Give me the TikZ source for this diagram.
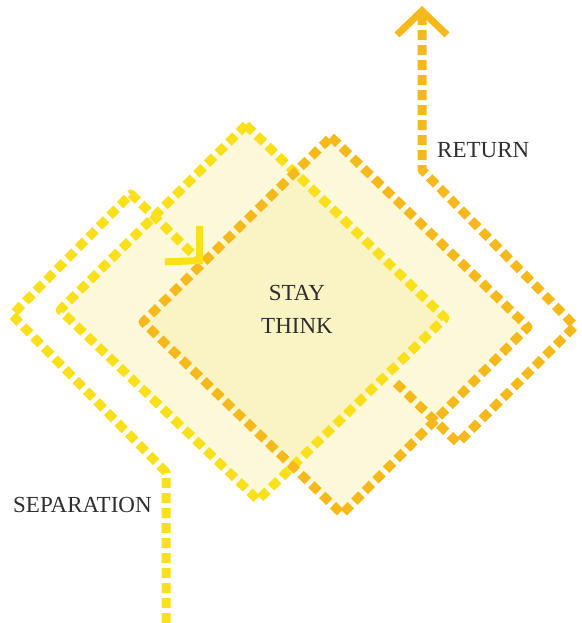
\documentclass[tikz,border=0pt]{standalone}
\usepackage{fontspec}
\setmainfont{Liberation Serif}
\usetikzlibrary{arrows.meta, positioning, calc}
\definecolor{SunYellow}{HTML}{F9E01A}
\definecolor{Amber}{HTML}{F5B91C}
\definecolor{PaleFill}{HTML}{FCF9DA}
\definecolor{DeepFill}{HTML}{FAF4C4}
\definecolor{InkGray}{HTML}{2E2E2E}

\tikzset{
  trail/.style={line width=9pt, dash pattern=on 10pt off 5pt, line join=round},
  chevron/.style={-{Straight Barb[length=24pt, width=50pt, line width=7pt]}},
  caption/.style={text=InkGray, inner sep=0pt, font=\fontsize{23}{27}\selectfont}
}

\begin{document}
\begin{tikzpicture}[x=1pt, y=-1pt]
    \useasboundingbox (0,0) rectangle (581,623);

    % Corners of the yellow diamond
    \coordinate (yT) at (246,125);
    \coordinate (yR) at (445,318);
    \coordinate (yB) at (258,500);
    \coordinate (yL) at (60,310);
    % Corners of the orange diamond
    \coordinate (oT) at (331,137);
    \coordinate (oR) at (528,327);
    \coordinate (oB) at (342,514);
    \coordinate (oL) at (143,322);

    % Pale fills, darker where they overlap
    \fill[PaleFill] (yT) -- (yR) -- (yB) -- (yL) -- cycle;
    \fill[PaleFill] (oT) -- (oR) -- (oB) -- (oL) -- cycle;
    \begin{scope}
        \clip (yT) -- (yR) -- (yB) -- (yL) -- cycle;
        \fill[DeepFill] (oT) -- (oR) -- (oB) -- (oL) -- cycle;
    \end{scope}

    % Dashed outlines
    \draw[trail, SunYellow] (yT) -- (yR) -- (yB) -- (yL) -- cycle;
    \draw[trail, Amber] (oT) -- (oR) -- (oB) -- (oL) -- cycle;

    % Separation path (in from below)
    \coordinate (sA) at (166,623);
    \coordinate (sB) at (166,472);
    \coordinate (sC) at (12,315);
    \coordinate (sD) at (131,194);
    \coordinate (sE) at (203,264);
    \draw[trail, SunYellow, chevron] (sA) -- (sB) -- (sC) -- (sD) -- (sE);

    % Return path (out at the top)
    \coordinate (rA) at (396,383);
    \coordinate (rB) at (458,443);
    \coordinate (rC) at (575,326);
    \coordinate (rD) at (422,170);
    \coordinate (rE) at (422,6);
    \draw[trail, Amber, chevron] (rA) -- (rB) -- (rC) -- (rD) -- (rE);

    % Labels
    \node[caption, anchor=base west] (ret) at (437,157) {RETURN};
    \node[caption, anchor=base west] (sep) at (13,512) {SEPARATION};
    \node[caption] (stay) at (297,293) {STAY};
    \node[caption, below=17pt of stay] (think) {THINK};
\end{tikzpicture}
\end{document}
